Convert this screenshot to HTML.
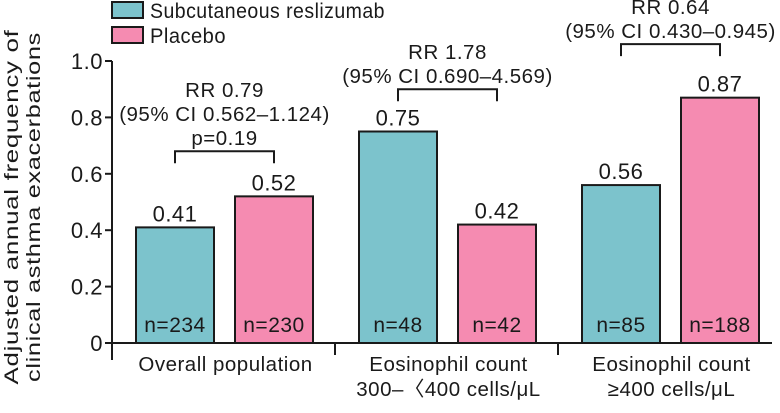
<!DOCTYPE html>
<html><head><meta charset="utf-8"><style>
body{margin:0;background:#fff;}
svg text{font-family:"Liberation Sans",sans-serif;fill:#1a1a1a;letter-spacing:0.5px;}
</style></head><body>
<svg id="chart" width="780" height="408" viewBox="0 0 780 408" xmlns="http://www.w3.org/2000/svg">
<g>
<rect x="112" y="2" width="31" height="16" fill="#7cc3cc" stroke="#1a1a1a" stroke-width="2"/>
<text x="150" y="18" font-size="21" textLength="235" lengthAdjust="spacingAndGlyphs">Subcutaneous reslizumab</text>
<rect x="112" y="27" width="31" height="16" fill="#f58bb1" stroke="#1a1a1a" stroke-width="2"/>
<text x="150" y="43" font-size="21" textLength="76" lengthAdjust="spacingAndGlyphs">Placebo</text>
</g>
<text transform="translate(18,207) rotate(-90)" text-anchor="middle" font-size="19" textLength="355" lengthAdjust="spacingAndGlyphs">Adjusted annual frequency of</text>
<text transform="translate(40,207) rotate(-90)" text-anchor="middle" font-size="19" textLength="350" lengthAdjust="spacingAndGlyphs">clinical asthma exacerbations</text>
<g id="axes"></g>
<g id="bars"></g>
</svg>
<script>
const categories = [["Overall population"],["Eosinophil count","300\u2013\u3008400 cells/\u03bcL"],["Eosinophil count","\u2265400 cells/\u03bcL"]];
const reslizumab = [0.41, 0.75, 0.56];
const placebo = [0.52, 0.42, 0.87];
const nRes = ["n=234","n=48","n=85"];
const nPla = ["n=230","n=42","n=188"];
const annotations = [["RR 0.79","(95% CI 0.562\u20131.124)","p=0.19"],["RR 1.78","(95% CI 0.690\u20134.569)"],["RR 0.64","(95% CI 0.430\u20130.945)"]];
const bracketY = [0.68, 0.90, 1.06];
const yTicks = [0,0.2,0.4,0.6,0.8,1.0];
const yTickLabels = ["0","0.2","0.4","0.6","0.8","1.0"];

const NS="http://www.w3.org/2000/svg";
const x0=112, gw=223, y0=343, yTop=61;
const y = v => y0 - v*(y0-yTop);
const gx = i => x0 + i*gw;
function mk(tag, attrs, parent, txt){const e=document.createElementNS(NS,tag);for(const k in attrs)e.setAttribute(k,attrs[k]);if(txt!==undefined)e.textContent=txt;parent.appendChild(e);return e;}
const axes=document.getElementById('axes'), bars=document.getElementById('bars');
let e=mk('line',{x1:x0,y1:yTop,x2:x0,y2:y0+17,stroke:'#1a1a1a','stroke-width':2},axes);


e=mk('line',{x1:x0,y1:y0,x2:772,y2:y0,stroke:'#1a1a1a','stroke-width':2},axes);


yTicks.forEach((t,i)=>{
  let l=mk('line',{x1:x0-7,y1:y(t),x2:x0,y2:y(t),stroke:'#1a1a1a','stroke-width':2},axes);
  
  
  let tx=mk('text',{x:x0-9,y:y(t)+8,'text-anchor':'end','font-size':22},axes,yTickLabels[i]);
  
  
});
categories.forEach((c,i)=>{
  if(i>0){let l=mk('line',{x1:gx(i),y1:y0,x2:gx(i),y2:y0+12,stroke:'#1a1a1a','stroke-width':2},axes);
  
  }
  c.forEach((line,j)=>{let t=mk('text',{x:gx(i)+gw/2+2,y:371+j*25,'text-anchor':'middle','font-size':20.5},axes,line);
  
  });
  const bw=78, xa=gx(i)+24, xb=gx(i)+123;
  let r=mk('rect',{x:xa,y:y(reslizumab[i]),width:bw,height:y0-y(reslizumab[i]),fill:'#7cc3cc',stroke:'#1a1a1a','stroke-width':2},bars);
  
  
  r=mk('rect',{x:xb,y:y(placebo[i]),width:bw,height:y0-y(placebo[i]),fill:'#f58bb1',stroke:'#1a1a1a','stroke-width':2},bars);
  
  
  let t=mk('text',{x:xa+bw/2,y:y(reslizumab[i])-6,'text-anchor':'middle','font-size':22},bars,reslizumab[i].toFixed(2));
  
  
  t=mk('text',{x:xb+bw/2,y:y(placebo[i])-6,'text-anchor':'middle','font-size':22},bars,placebo[i].toFixed(2));
  
  
  t=mk('text',{x:xa+bw/2,y:332,'text-anchor':'middle','font-size':21},bars,nRes[i]);
  
  
  t=mk('text',{x:xb+bw/2,y:332,'text-anchor':'middle','font-size':21},bars,nPla[i]);
  
  
  const by=y(bracketY[i]), ca=xa+bw/2, cb=xb+bw/2;
  let p=mk('path',{d:`M${ca},${by+12}V${by}H${cb}V${by+12}`,fill:'none',stroke:'#1a1a1a','stroke-width':2},bars);
  
  
  const lines=annotations[i], mid=(ca+cb)/2;
  lines.forEach((s,j)=>{let a=mk('text',{x:mid,y:by-6-(lines.length-1-j)*24,'text-anchor':'middle','font-size':20.5},bars,s);
  
  });
});
</script>
</body></html>
